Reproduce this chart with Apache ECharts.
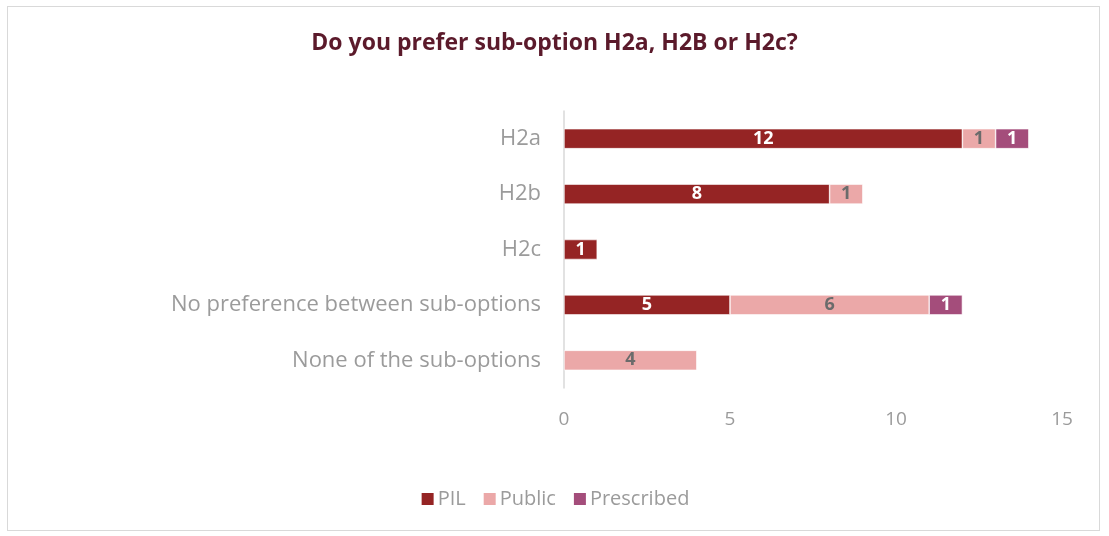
<!DOCTYPE html>
<html>
<head>
<meta charset="utf-8">
<script src="https://cdn.jsdelivr.net/npm/echarts@6/dist/echarts.min.js"></script>
<style>
  html, body { margin: 0; padding: 0; background: #fff; }
  #frame { position: absolute; left: 7px; top: 6px; width: 1093px; height: 525px; border: 1px solid #d9d9d9; box-sizing: border-box; }
  #chart { width: 1109px; height: 536px; }
</style>
</head>
<body>
<div id="frame"></div>
<div id="chart"></div>
<script>
const categories = ['H2a', 'H2b', 'H2c', 'No preference between sub-options', 'None of the sub-options'];
const pilValues = [12, 8, 1, 5, null];
const publicValues = [1, 1, null, 6, 4];
const prescribedValues = [1, null, null, 1, null];
const xTicks = [0, 5, 10, 15];

const font = '"Open Sans", "Liberation Sans", sans-serif';

function seriesOf(name, data, color, labelColor) {
  return {
    name: name,
    type: 'bar',
    stack: 'total',
    data: data,
    barWidth: '36%',
    itemStyle: { color: color, borderColor: '#ffffff', borderWidth: 0.6 },
    label: {
      show: true,
      position: 'inside',
      color: labelColor,
      fontWeight: 'bold',
      fontSize: 18,
      fontFamily: font
    }
  };
}

const chart = echarts.init(document.getElementById('chart'));
chart.setOption({
  animation: false,
  title: {
    text: 'Do you prefer sub-option H2a, H2B or H2c?',
    left: 'center',
    top: 27,
    textStyle: { color: '#5b1a2b', fontSize: 23, fontWeight: 'bold', fontFamily: font }
  },
  legend: {
    bottom: 22,
    left: 'center',
    itemWidth: 14,
    itemHeight: 14,
    itemGap: 16,
    icon: 'rect',
    textStyle: { color: '#9b9b9b', fontSize: 20, fontFamily: font, padding: [0, 0, 0, -2] },
    data: ['PIL', 'Public', 'Prescribed']
  },
  grid: { left: 564, right: 47, top: 111, height: 277, containLabel: false },
  xAxis: {
    type: 'value',
    min: xTicks[0],
    max: xTicks[xTicks.length - 1],
    interval: 5,
    axisLine: { show: false },
    axisTick: { show: false },
    splitLine: { show: false },
    axisLabel: { color: '#9b9b9b', fontSize: 19, fontFamily: font, margin: 22 }
  },
  yAxis: {
    type: 'category',
    inverse: true,
    data: categories,
    axisLine: { show: true, lineStyle: { color: '#d9d9d9', width: 1.5 } },
    axisTick: { show: false },
    axisLabel: { color: '#9b9b9b', fontSize: 22, fontFamily: font, margin: 23 }
  },
  series: [
    seriesOf('PIL', pilValues, '#952424', '#ffffff'),
    seriesOf('Public', publicValues, '#eba8a8', '#6b6b6b'),
    seriesOf('Prescribed', prescribedValues, '#a44d7b', '#ffffff')
  ]
});
</script>
</body>
</html>
